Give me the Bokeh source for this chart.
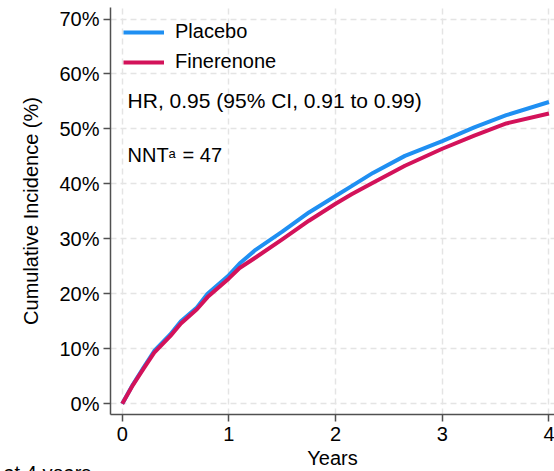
from bokeh.plotting import figure
from bokeh.models import (Range1d, FixedTicker, PrintfTickFormatter, Legend,
                          LegendItem, Label, Title, ColumnDataSource)
from bokeh.embed import file_html
from bokeh.resources import INLINE

# ---- data ----
years = [0, 0.1, 0.2, 0.3, 0.45, 0.55, 0.7, 0.8, 1.0, 1.1, 1.25, 1.5,
         1.75, 2.0, 2.15, 2.35, 2.65, 3.0, 3.3, 3.6, 4.0]
placebo = [0, 3.5, 6.6, 9.6, 12.6, 15.0, 17.5, 20.0, 23.4, 25.5, 28.0, 31.3,
           34.8, 37.8, 39.6, 42.0, 45.1, 47.8, 50.3, 52.5, 54.9]
finerenone = [0, 3.4, 6.4, 9.3, 12.3, 14.6, 17.2, 19.4, 22.8, 24.7, 26.6, 29.9,
              33.3, 36.4, 38.1, 40.2, 43.3, 46.4, 48.8, 51.0, 52.8]
series_names = ["Placebo", "Finerenone"]
x_ticks = [0, 1, 2, 3, 4]
y_ticks = [0, 10, 20, 30, 40, 50, 60, 70]
hr_text = "HR, 0.95 (95% CI, 0.91 to 0.99)"
nnt_text = "NNT"
nnt_sup = "a"
nnt_value = "= 47"
footnote = "at 4 years"

BLUE = "#1f8ff2"
RED = "#d3125a"
FONT = "Liberation Sans"
AXIS_COL = "#505050"

src = ColumnDataSource(dict(t=years, placebo=placebo, finerenone=finerenone))

p = figure(width=554, height=471, output_backend="svg", toolbar_location=None,
           x_range=Range1d(-0.11, 4.052), y_range=Range1d(-1.96, 72.1),
           min_border_left=110, min_border_right=0, min_border_top=7,
           min_border_bottom=57)
p.outline_line_color = None
p.background_fill_color = "white"
p.border_fill_color = "white"

# grids
for g in (p.xgrid, p.ygrid):
    g.grid_line_color = "#e4e4e4"
    g.grid_line_dash = "6 4"
    g.grid_line_width = 1.5
p.xgrid.ticker = FixedTicker(ticks=x_ticks)
p.ygrid.ticker = FixedTicker(ticks=y_ticks)

# axes
p.xaxis.ticker = FixedTicker(ticks=x_ticks)
p.yaxis.ticker = FixedTicker(ticks=y_ticks)
p.yaxis.formatter = PrintfTickFormatter(format="%d%%")
p.xaxis.axis_label = "Years"
p.yaxis.axis_label = "Cumulative Incidence (%)"
for ax in (p.xaxis, p.yaxis):
    ax.axis_line_color = AXIS_COL
    ax.axis_line_width = 1.5
    ax.major_tick_line_color = AXIS_COL
    ax.major_tick_line_width = 1.5
    ax.major_tick_out = 7
    ax.major_tick_in = 0
    ax.minor_tick_line_color = None
    ax.major_label_text_font = FONT
    ax.major_label_text_font_size = "20px"
    ax.major_label_text_color = "black"
    ax.axis_label_text_font = FONT
    ax.axis_label_text_font_size = "20px"
    ax.axis_label_text_font_style = "normal"
    ax.axis_label_text_color = "black"
p.yaxis.major_label_standoff = 4
p.yaxis.axis_label_standoff = 14
p.xaxis.major_label_standoff = 5
p.xaxis.axis_label_standoff = 3

r1 = p.line("t", "placebo", source=src, line_color=BLUE, line_width=4,
            line_join="round")
r2 = p.line("t", "finerenone", source=src, line_color=RED, line_width=4,
            line_join="round")

legend = Legend(items=[LegendItem(label=series_names[0], renderers=[r1]),
                       LegendItem(label=series_names[1], renderers=[r2])],
                location="top_left", margin=13, padding=0, spacing=7,
                glyph_width=41, glyph_height=20, label_standoff=11,
                label_text_font=FONT, label_text_font_size="20px",
                label_text_color="black",
                background_fill_alpha=0, border_line_color=None)
p.add_layout(legend)

common = dict(text_font=FONT, text_color="black", text_baseline="middle")
p.add_layout(Label(x=0.05, y=55.2, text=hr_text, text_font_size="21px", **common))
p.add_layout(Label(x=0.05, y=45.2, text=nnt_text, text_font_size="20px", **common))
p.add_layout(Label(x=0.05, y=45.2, x_offset=41, y_offset=2, text=nnt_sup,
                   text_font_size="13px", **common))
p.add_layout(Label(x=0.05, y=45.2, x_offset=55, text=nnt_value,
                   text_font_size="20px", **common))

# footnote fragment at the bottom-left, in the bottom side panel
foot = Title(text=footnote, align="left", offset=-107, standoff=-24,
             text_font=FONT, text_font_size="20px", text_font_style="normal",
             text_color="black")
p.add_layout(foot, "below")

open("out.html", "w").write(file_html(p, INLINE))
